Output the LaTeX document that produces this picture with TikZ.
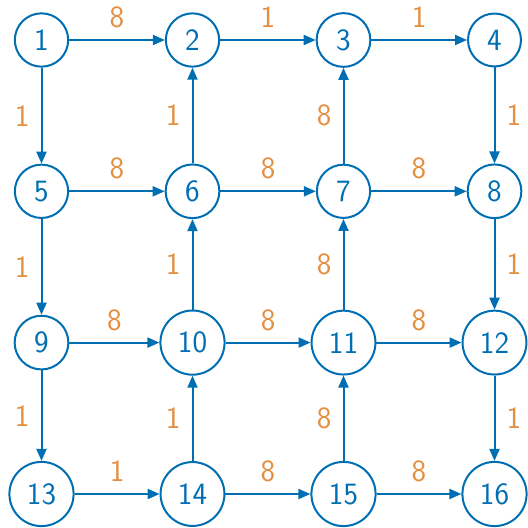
\documentclass[tikz,border=0pt]{standalone}
\usetikzlibrary{arrows.meta}
\definecolor{nodeblue}{RGB}{0,110,178}
\definecolor{wtorange}{RGB}{228,142,64}
\begin{document}
\begin{tikzpicture}[x=1pt,y=1pt,
  vert/.style={circle,draw=nodeblue,line width=2pt,text=nodeblue,inner sep=10pt,font=\sffamily\fontsize{31}{37}\selectfont},
  edge/.style={draw=nodeblue,line width=2pt,-{Triangle[length=12pt,width=10pt]}},
  wt/.style={text=wtorange,inner sep=11pt,font=\sffamily\fontsize{31}{37}\selectfont}]
\useasboundingbox (0,0) rectangle (528,528);
\foreach \r [count=\i from 0] in {488,336.7,185.4,34}{
  \foreach \c [count=\j from 1] in {41.5,192.5,343.5,494.5}{
    \pgfmathtruncatemacro\n{\i*4+\j}
    \node[vert] (n\n) at (\c,\r) {\n};
  }
}
% row 1
\draw[edge] (n1) -- node[wt,above]{8} (n2);
\draw[edge] (n2) -- node[wt,above]{1} (n3);
\draw[edge] (n3) -- node[wt,above]{1} (n4);
\draw[edge] (n1) -- node[wt,left]{1} (n5);
\draw[edge] (n6) -- node[wt,left]{1} (n2);
\draw[edge] (n7) -- node[wt,left]{8} (n3);
\draw[edge] (n4) -- node[wt,right]{1} (n8);
% row 2
\draw[edge] (n5) -- node[wt,above]{8} (n6);
\draw[edge] (n6) -- node[wt,above]{8} (n7);
\draw[edge] (n7) -- node[wt,above]{8} (n8);
\draw[edge] (n5) -- node[wt,left]{1} (n9);
\draw[edge] (n10) -- node[wt,left]{1} (n6);
\draw[edge] (n11) -- node[wt,left]{8} (n7);
\draw[edge] (n8) -- node[wt,right]{1} (n12);
% row 3
\draw[edge] (n9) -- node[wt,above]{8} (n10);
\draw[edge] (n10) -- node[wt,above]{8} (n11);
\draw[edge] (n11) -- node[wt,above]{8} (n12);
\draw[edge] (n9) -- node[wt,left]{1} (n13);
\draw[edge] (n14) -- node[wt,left]{1} (n10);
\draw[edge] (n15) -- node[wt,left]{8} (n11);
\draw[edge] (n12) -- node[wt,right]{1} (n16);
% row 4
\draw[edge] (n13) -- node[wt,above]{1} (n14);
\draw[edge] (n14) -- node[wt,above]{8} (n15);
\draw[edge] (n15) -- node[wt,above]{8} (n16);
\end{tikzpicture}
\end{document}
